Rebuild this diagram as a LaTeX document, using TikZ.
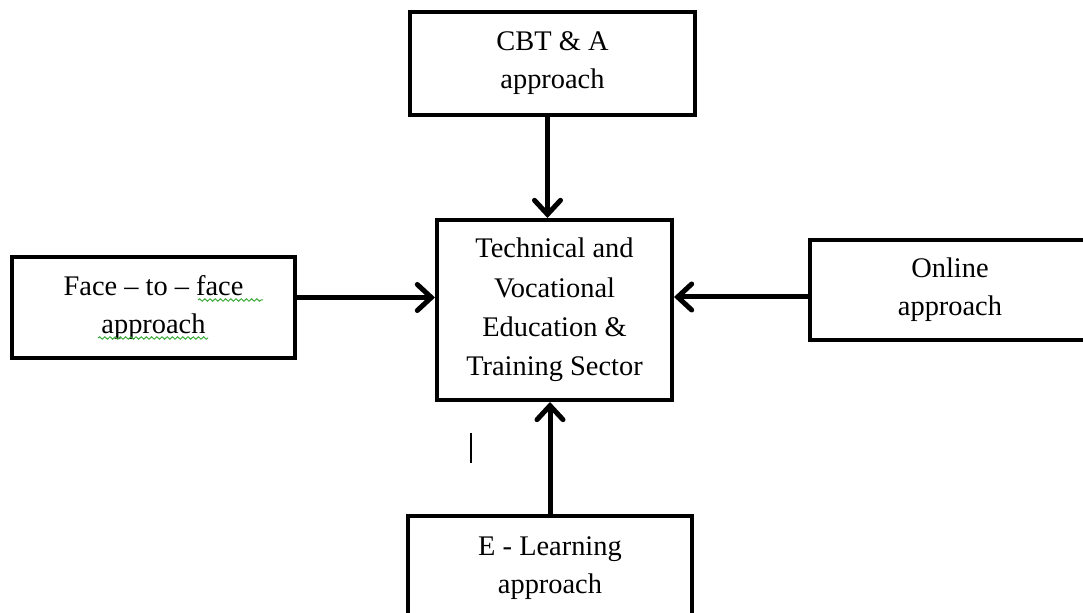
\documentclass[tikz,border=0pt]{standalone}
\usepackage{fontspec}
\setmainfont{Liberation Serif}
\usetikzlibrary{positioning,arrows.meta,decorations.pathmorphing}
\tikzset{snake it/.style={decorate, decoration={snake,amplitude=0.6pt,segment length=2.6pt}}}
\tikzset{blockbox/.style={draw, line width=2pt, align=center, inner sep=0pt, font=\fontsize{14.2}{19}\selectfont}}
\tikzset{feed/.style={line width=2.5pt, -{Straight Barb[length=7pt,width=13pt,line cap=round]}}}
\definecolor{spellgreen}{RGB}{60,170,60}

\begin{document}
\begin{tikzpicture}[x=0.5pt,y=-0.5pt]
	\useasboundingbox (0,0) rectangle (1083,613);
	\clip (0,0) rectangle (1083,613);
	% the sector in the middle
	\node[blockbox, minimum width=117.5pt, minimum height=90pt, font=\fontsize{14.2}{19.7}\selectfont] (tvet) at (554.5,310) {Technical and\\Vocational\\Education \&\\Training Sector};
	% the four approaches
	\node[blockbox, minimum width=142.5pt, minimum height=51.5pt] (cbt) at (552.5,63.5) {CBT \& A\\approach};
	\node[blockbox, minimum width=141.5pt, minimum height=50.5pt] (face) at (153.5,307.5) {Face -- to -- face\\approach};
	\node[blockbox, minimum width=140pt, minimum height=50pt] (online) at (950,290) {Online\\approach};
	\node[blockbox, minimum width=142pt, minimum height=51.5pt] (elearn) at (550,568) {E - Learning\\approach};
	\draw[feed] ([xshift=-2.5pt]cbt.south) -- ([xshift=-2.5pt]cbt.south |- tvet.north);
	\draw[feed] ([yshift=5pt]face.east) -- ([yshift=5pt]face.east -| tvet.west);
	\draw[feed] ([yshift=-3.5pt]online.west) -- ([yshift=-3.5pt]online.west -| tvet.east);
	\draw[feed] (elearn.north) -- (elearn.north |- tvet.south);
	% spell check marks and cursor
	\draw[spellgreen, line width=0.5pt, snake it] (198,300) -- (263,300);
	\draw[spellgreen, line width=0.5pt, snake it] (98,338) -- (208,338);
	\draw[line width=1pt] (471,433) -- (471,463);
\end{tikzpicture}
\end{document}
